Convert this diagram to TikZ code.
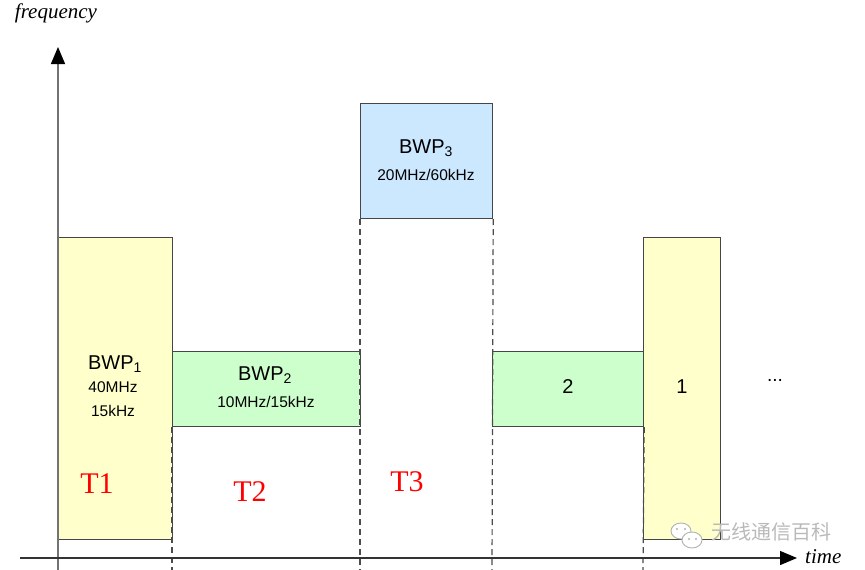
\documentclass[tikz,border=0pt]{standalone}
\usepackage{fontspec}
\setmainfont{Liberation Serif}
\setsansfont{Liberation Sans}
\newfontfamily\cjk{Noto Sans CJK SC}
\usetikzlibrary{arrows.meta}
\definecolor{byellow}{RGB}{255,255,204}
\definecolor{bgreen}{RGB}{204,255,204}
\definecolor{bblue}{RGB}{204,232,255}
\definecolor{bline}{RGB}{70,70,70}
\tikzset{
  box/.style={draw=bline, line width=1.2pt, inner sep=0pt, anchor=north west},
  bigtxt/.style={font=\sffamily\fontsize{20}{22}\selectfont, inner sep=0pt},
  smalltxt/.style={font=\sffamily\fontsize{15.5}{17}\selectfont, inner sep=0pt},
  tlabel/.style={font=\rmfamily\fontsize{30}{32}\selectfont, text=red, inner sep=0pt},
  axislabel/.style={font=\rmfamily\itshape\fontsize{21}{23}\selectfont, inner sep=0pt},
  guide/.style={draw=black!70, line width=1.2pt, dash pattern=on 6pt off 4pt},
  axis/.style={line width=1.3pt, -{Triangle[length=17pt,width=14pt,color=black,fill=black]}},
}
\begin{document}
\begin{tikzpicture}[x=1pt,y=-1pt]
\useasboundingbox (0,0) rectangle (865,570);
% boxes
\node[box, fill=byellow, minimum width=114pt, minimum height=302pt] (bwp1) at (58,237) {};
\node[box, fill=bgreen, minimum width=188pt, minimum height=75pt] (bwp2) at (172,351) {};
\node[box, fill=bblue, minimum width=132pt, minimum height=115pt] (bwp3) at (360,103) {};
\node[box, fill=bgreen, minimum width=151pt, minimum height=75pt] (b2) at (492,351) {};
\node[box, fill=byellow, minimum width=77pt, minimum height=302pt] (b1) at (643,237) {};
% bottom coordinates for guides
\coordinate (g1) at (172,570);
\coordinate (g2) at (360,570);
\coordinate (g3) at (492,570);
\coordinate (g4) at (643,570);
\draw[guide] (bwp2.south west) -- (g1);
\draw[guide] (bwp3.south west) -- (g2);
\draw[guide] (bwp3.south east) -- (g3);
\draw[guide] (b2.south east) -- (g4);
% axes
\coordinate (vb) at (58,570);
\coordinate (vt) at (58,47);
\coordinate (hl) at (20,558);
\coordinate (hr) at (797,558);
\draw[axis, draw=black!55] (vb) -- (vt);
\draw[axis, draw=black!80] (hl) -- (hr);
\node[axislabel] (freq) at (56,13) {frequency};
\node[axislabel, anchor=west] (time) at (805,557) {time};
% texts
\node[bigtxt] (t1a) at (115,364) {BWP\textsubscript{1}};
\node[smalltxt] (t1b) at (113,387) {40MHz};
\node[smalltxt] (t1c) at (113,411) {15kHz};
\node[bigtxt] (t2a) at (265,375) {BWP\textsubscript{2}};
\node[smalltxt] (t2b) at (266,402) {10MHz/15kHz};
\node[bigtxt] (t3a) at (426,148) {BWP\textsubscript{3}};
\node[smalltxt] (t3b) at (426,175) {20MHz/60kHz};
\node[bigtxt] (n2) at (568,387) {2};
\node[bigtxt] (n1) at (682,387) {1};
\node[font=\sffamily\fontsize{19}{21}\selectfont, inner sep=0pt] (dots) at (775,380) {...};
\node[tlabel] (T1) at (97,484) {T1};
\node[tlabel] (T2) at (250,492) {T2};
\node[tlabel] (T3) at (407,482) {T3};
% watermark
\draw[gray!60, fill=white, line width=0.9pt] (681,531) ellipse (10pt and 8pt);
\draw[gray!60, fill=white, line width=0.9pt] (692,540) ellipse (10pt and 8pt);
\fill[gray!60] (677,529) circle (1.2pt) (685,529) circle (1.2pt) (689,539) circle (1.2pt) (696,539) circle (1.2pt);
\node[font=\cjk\fontsize{20}{22}\selectfont, text=gray!55, inner sep=0pt, anchor=west] (wm) at (711,532) {无线通信百科};
\end{tikzpicture}
\end{document}
